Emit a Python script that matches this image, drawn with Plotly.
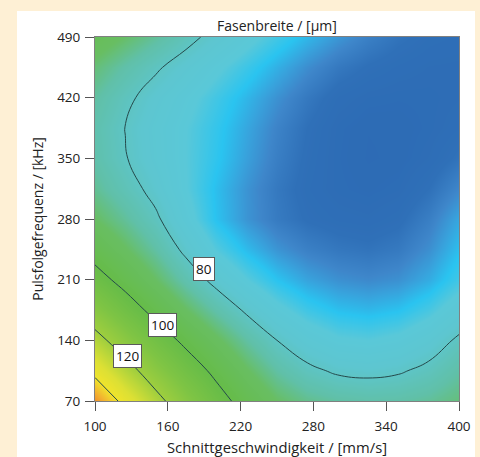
import plotly.graph_objects as go

# Values (response surface of Fasenbreite in µm)
schnittgeschwindigkeit = [100, 125, 150, 175, 200, 225, 250, 275, 300, 325, 350, 375, 400]   # mm/s
pulsfolgefrequenz = [70, 105, 140, 175, 210, 245, 280, 315, 350, 385, 420, 455, 490]         # kHz
fasenbreite = [
    [151.3, 136.4, 123.5, 112.7, 103.8, 96.2, 90.5, 87.2, 85.5, 84.7, 85.0, 86.3, 88.5],   # 70
    [136.7, 124.5, 113.9, 105.2, 97.8, 90.9, 85.3, 81.4, 79.1, 78.5, 79.3, 81.5, 85.1],    # 105
    [123.9, 113.9, 105.2, 97.9, 91.5, 85.3, 80.0, 76.0, 73.5, 72.9, 74.0, 76.7, 81.0],     # 140
    [112.9, 104.7, 97.2, 90.6, 84.6, 79.0, 74.3, 70.8, 68.6, 67.9, 68.8, 71.5, 75.8],      # 175
    [103.6, 96.9, 90.4, 83.9, 78.0, 73.0, 69.0, 66.2, 64.5, 63.8, 64.5, 66.9, 71.0],       # 210
    [96.2, 90.8, 85.1, 78.5, 72.5, 68.1, 64.8, 62.7, 61.5, 61.0, 61.8, 64.3, 68.5],        # 245
    [90.5, 86.1, 81.0, 74.7, 68.8, 64.8, 62.0, 60.3, 59.5, 59.2, 60.0, 62.5, 66.5],        # 280
    [86.6, 82.5, 78.1, 73.1, 68.5, 64.7, 61.7, 59.7, 58.6, 58.2, 58.7, 60.6, 63.6],        # 315
    [84.4, 80.3, 76.5, 72.9, 69.5, 65.8, 62.5, 60.1, 58.5, 57.8, 58.0, 59.1, 61.0],        # 350
    [84.0, 79.9, 76.2, 73.0, 69.9, 66.4, 63.1, 60.5, 58.6, 57.9, 58.0, 58.6, 59.6],        # 385
    [85.5, 81.3, 77.5, 74.2, 71.0, 67.7, 64.5, 61.7, 59.5, 58.7, 58.5, 58.6, 59.0],        # 420
    [88.8, 84.7, 80.8, 77.3, 73.8, 70.5, 67.2, 64.2, 61.7, 60.3, 59.5, 59.0, 58.9],        # 455
    [94.0, 90.0, 86.0, 81.9, 78.0, 74.4, 71.0, 67.8, 65.0, 62.7, 61.0, 59.9, 59.5],        # 490
]
x_ticks = [100, 160, 220, 280, 340, 400]
y_ticks = [70, 140, 210, 280, 350, 420, 490]
labelled_levels = [80, 100, 120]
label_v = [190, 156, 127]
label_p = [222, 158, 122]

colorscale = [
    [0.000, "#2B68B2"], [0.020, "#2C6AB4"], [0.055, "#2F70B8"], [0.085, "#3E86CA"],
    [0.110, "#38A2DC"], [0.140, "#2AC4F0"], [0.180, "#5AC8D8"], [0.230, "#5DC6D0"],
    [0.300, "#60C0A8"], [0.355, "#68BE62"], [0.450, "#66BC48"], [0.550, "#7EC444"],
    [0.650, "#9ECE3E"], [0.700, "#B8D63A"], [0.770, "#DCE034"], [0.850, "#F0E42C"],
    [0.920, "#F2B030"], [0.970, "#F08C2A"], [1.000, "#EE7A24"],
]

FONT = "Open Sans, Noto Sans, sans-serif"

fig = go.Figure()
fig.add_trace(go.Contour(
    x=schnittgeschwindigkeit, y=pulsfolgefrequenz, z=fasenbreite,
    colorscale=colorscale, zmin=55, zmax=155,
    showscale=False,
    contours=dict(coloring="heatmap", start=80, end=140, size=20, showlabels=False),
    line=dict(color="#24494a", width=1, smoothing=1.3),
    hoverinfo="skip",
))

for lv, lx, ly in zip(labelled_levels, label_v, label_p):
    fig.add_annotation(
        x=lx, y=ly, xref="x", yref="y", text=str(lv), showarrow=False,
        font=dict(family=FONT, size=13.5, color="#111"),
        bgcolor="white", bordercolor="#5a5a5a", borderwidth=1, borderpad=2,
    )

# white panel on cream page
fig.add_shape(type="rect", xref="paper", yref="paper",
              x0=-0.2143, x1=1.044, y0=-0.2, y1=1.0714,
              fillcolor="white", line=dict(width=0), layer="below")

axis_common = dict(
    ticks="outside", ticklen=9, tickcolor="#555", tickwidth=1,
    showline=True, linecolor="#808080", linewidth=1, mirror=True,
    showgrid=False, zeroline=False, automargin=False,
    tickfont=dict(family=FONT, size=13.5, color="#222"),
)
fig.update_xaxes(range=[100, 400], tickvals=x_ticks, ticklabelstandoff=4, **axis_common,
                 title=dict(text="Schnittgeschwindigkeit / [mm/s]", standoff=16,
                            font=dict(family=FONT, size=14.8, color="#222")))
fig.update_yaxes(range=[70, 490], tickvals=y_ticks, ticklabelstandoff=2, **axis_common,
                 title=dict(text="Pulsfolgefrequenz / [kHz]", standoff=10,
                            font=dict(family=FONT, size=14, color="#222")))

fig.update_layout(
    width=480, height=457,
    margin=dict(l=95, r=21, t=37, b=56),
    paper_bgcolor="#FEF0D5", plot_bgcolor="white",
    title=dict(text="Fasenbreite / [µm]", x=0.577, xanchor="center",
               y=1 - 26 / 457, yanchor="middle",
               font=dict(family=FONT, size=14, color="#222")),
    showlegend=False,
)

fig.write_html(
    "out.html",
    config={"displayModeBar": False},
    post_script="document.body.style.margin='0px';"
                "document.body.style.background='#FEF0D5';",
)
